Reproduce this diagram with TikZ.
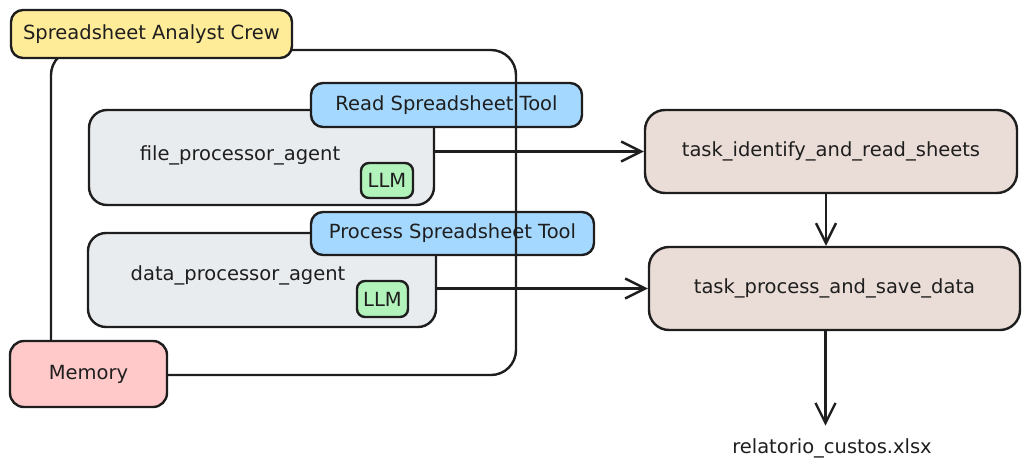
\documentclass[tikz,border=0pt]{standalone}
\usepackage{fontspec}
\setmainfont{DejaVu Sans}
\usetikzlibrary{arrows.meta}
\definecolor{ink}{HTML}{1E1E1E}
\definecolor{crewfill}{HTML}{FFEC99}
\definecolor{toolfill}{HTML}{A5D8FF}
\definecolor{agentfill}{HTML}{E9ECEF}
\definecolor{llmfill}{HTML}{B2F2BB}
\definecolor{memfill}{HTML}{FFC9C9}
\definecolor{taskfill}{HTML}{EADDD7}
\tikzset{>={Straight Barb[length=20pt,width=20pt,line width=2.4pt]}}
\tikzset{
  sketch/.style={draw=ink,line width=2.4pt,inner sep=0pt,text=ink},
  crewbox/.style={sketch,fill=crewfill,rounded corners=12pt},
  toolbox/.style={sketch,fill=toolfill,rounded corners=12pt},
  agentbox/.style={sketch,fill=agentfill,rounded corners=18pt},
  llmbox/.style={sketch,fill=llmfill,rounded corners=8pt},
  membox/.style={sketch,fill=memfill,rounded corners=14pt},
  taskbox/.style={sketch,fill=taskfill,rounded corners=20pt},
  frame/.style={sketch,rounded corners=25pt},
  flow/.style={draw=ink,line width=2.4pt,->}
}

\begin{document}
\begin{tikzpicture}[x=1pt,y=-1pt,font=\fontsize{19.5}{23}\selectfont]
\useasboundingbox (0,0) rectangle (1031,469);
% agents and their tools
\node[agentbox,minimum width=345pt,minimum height=95pt] (fileagent) at (261.5,157.5) {};
\node[anchor=base,text=ink] (filetext) at (240,160) {file\_processor\_agent};
\node[llmbox,minimum width=52pt,minimum height=35pt] (llmfile) at (387,180.5) {LLM};
\node[agentbox,minimum width=348pt,minimum height=94pt] (dataagent) at (262,280) {};
\node[anchor=base,text=ink] (datatext) at (238,280) {data\_processor\_agent};
\node[llmbox,minimum width=51pt,minimum height=36pt] (llmdata) at (382.5,299) {LLM};
\node[toolbox,minimum width=271pt,minimum height=44pt] (readtool) at (446.5,105) {Read Spreadsheet Tool};
\node[toolbox,minimum width=283pt,minimum height=43pt] (processtool) at (452.5,233.5) {Process Spreadsheet Tool};
% crew
\node[frame,minimum width=465pt,minimum height=325pt] (crewframe) at (283.5,212.5) {};
\node[crewbox,minimum width=281pt,minimum height=48pt] (crew) at (151.5,34) {Spreadsheet Analyst Crew};
\node[membox,minimum width=157pt,minimum height=66pt] (memory) at (88.5,374) {Memory};
% tasks
\node[taskbox,minimum width=372pt,minimum height=83pt] (taskread) at (831,151.5) {task\_identify\_and\_read\_sheets};
\node[taskbox,minimum width=371pt,minimum height=83pt] (tasksave) at (834.5,288.5) {task\_process\_and\_save\_data};
\node[anchor=base,text=ink] (report) at (832,453) {relatorio\_custos.xlsx};
\draw[flow] (fileagent.east |- taskread.west) -- (taskread.west);
\draw[flow] (dataagent.east |- tasksave.west) -- (tasksave.west);
\draw[flow] ([xshift=-5pt]taskread.south) -- ([xshift=-5pt]taskread.south |- tasksave.north);
\draw[flow,shorten >=9pt] ([xshift=-9pt]tasksave.south) -- ([xshift=-9pt]tasksave.south |- report.north);
\end{tikzpicture}
\end{document}
